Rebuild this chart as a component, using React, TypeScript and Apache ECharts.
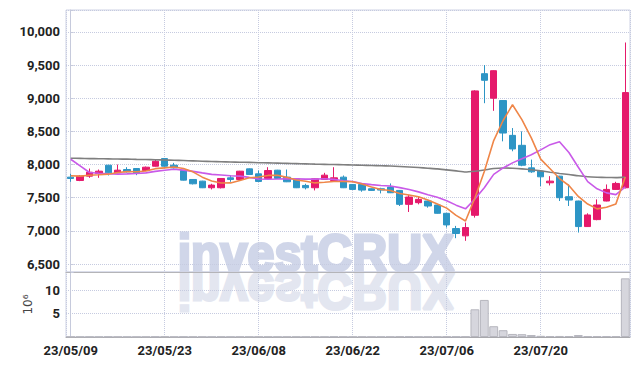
import React, { useEffect, useRef } from "react";
import * as echarts from "echarts";

const dates = [
  "23/05/09","23/05/10","23/05/11","23/05/12","23/05/15","23/05/16","23/05/17","23/05/18","23/05/19","23/05/22",
  "23/05/23","23/05/24","23/05/25","23/05/26","23/05/30","23/05/31","23/06/01","23/06/02","23/06/05","23/06/07",
  "23/06/08","23/06/09","23/06/12","23/06/13","23/06/14","23/06/15","23/06/16","23/06/19","23/06/20","23/06/21",
  "23/06/22","23/06/23","23/06/26","23/06/27","23/06/28","23/06/29","23/06/30","23/07/03","23/07/04","23/07/05",
  "23/07/06","23/07/07","23/07/10","23/07/11","23/07/12","23/07/13","23/07/14","23/07/17","23/07/18","23/07/19",
  "23/07/20","23/07/21","23/07/24","23/07/25","23/07/26","23/07/27","23/07/28","23/07/31","23/08/01","23/08/02",
];

// [open, close, low, high]
const ohlc: number[][] = [
  [7810,7790,7740,7860],[7760,7825,7750,7840],[7825,7885,7800,7940],[7865,7900,7800,7925],[7990,7875,7835,7995],
  [7875,7915,7870,8000],[7925,7890,7880,7960],[7940,7875,7840,7945],[7910,7960,7900,7970],[7975,8050,7970,8075],
  [8090,7975,7970,8095],[7990,7950,7940,8025],[7910,7765,7760,7920],[7775,7710,7700,7780],[7750,7650,7645,7755],
  [7650,7690,7625,7710],[7650,7790,7640,7795],[7800,7775,7740,7840],[7775,7900,7770,7905],[7935,7850,7845,7940],
  [7860,7745,7740,7910],[7790,7910,7785,7960],[7915,7790,7785,7920],[7810,7740,7735,7925],[7785,7650,7645,7790],
  [7685,7650,7625,7710],[7650,7785,7610,7790],[7775,7840,7770,7875],[7760,7800,7755,7960],[7810,7650,7645,7835],
  [7700,7625,7620,7705],[7700,7615,7590,7705],[7635,7610,7605,7640],[7635,7615,7565,7650],[7660,7575,7570,7715],
  [7610,7400,7375,7615],[7400,7510,7285,7540],[7425,7475,7400,7525],[7450,7375,7350,7455],[7390,7265,7260,7395],
  [7265,7090,7050,7270],[7035,6960,6890,7075],[6925,7050,6850,7125],[7235,9110,7200,9120],[9370,9270,8925,9500],
  [9000,9415,8810,9420],[8965,8475,8350,8970],[8440,8235,8200,8550],[8290,7990,7975,8500],[7950,7890,7875,8075],
  [7900,7815,7675,7905],[7725,7750,7685,7825],[7825,7500,7450,7830],[7515,7465,7375,7700],[7450,7065,6975,7455],
  [7065,7240,7060,7265],[7170,7390,7160,7475],[7450,7625,7445,7700],[7625,7715,7620,7740],[7650,9085,7640,9840],
];

// closes of the 9 sessions before the first shown date (for moving averages)
const prevCloses = [8825, 8885, 8010, 7960, 7970, 7850, 7820, 7860, 7830];

const ma60 = [
  8095,8093,8090,8088,8086,8083,8081,8078,8076,8072,
  8068,8065,8060,8055,8050,8046,8042,8038,8035,8032,
  8028,8025,8022,8018,8014,8010,8006,8003,8000,7997,
  7993,7990,7986,7982,7977,7970,7963,7955,7945,7935,
  7920,7905,7888,7900,7918,7940,7948,7944,7935,7922,
  7905,7885,7866,7850,7830,7815,7808,7805,7803,7810,
];

// volume, millions
const volumes = [
  0.06,0.05,0.07,0.05,0.08,0.06,0.05,0.04,0.06,0.09,
  0.1,0.06,0.08,0.07,0.06,0.05,0.07,0.05,0.06,0.05,
  0.06,0.07,0.05,0.06,0.07,0.05,0.06,0.05,0.08,0.06,
  0.05,0.06,0.04,0.05,0.06,0.1,0.08,0.05,0.06,0.07,
  0.09,0.08,0.1,5.9,7.9,2.3,1.45,0.65,0.6,0.42,
  0.25,0.2,0.22,0.2,0.42,0.2,0.18,0.17,0.15,12.5,
];

const closes = ohlc.map((d) => d[1]);

function movingAverage(n: number): number[] {
  const all = prevCloses.concat(closes);
  const off = prevCloses.length;
  return closes.map((_, i) => {
    let s = 0;
    for (let k = 0; k < n; k++) s += all[off + i - k];
    return Math.round(s / n);
  });
}

const FONT = "Roboto, 'Liberation Sans', sans-serif";
const GRID_COLOR = "#c6cbe0";
const WM_FONT = "'Liberation Sans', Arial, sans-serif";

export default function App() {
  const ref = useRef<HTMLDivElement>(null);
  useEffect(() => {
    if (!ref.current) return;
    const chart = echarts.init(ref.current, undefined, { renderer: "svg" });
    const ma5 = movingAverage(5);
    const ma10 = movingAverage(10);
    const vSplit = {
      show: true,
      lineStyle: { type: "dotted" as const, color: GRID_COLOR, width: 1 },
    };
    chart.setOption({
      animation: false,
      grid: [
        { left: 66, right: 9, top: 10, height: 262, show: true, borderColor: "#cfd3e4", borderWidth: 1 },
        { left: 66, right: 9, top: 272, height: 65, show: true, borderColor: "#cfd3e4", borderWidth: 1 },
      ],
      graphic: [
        {
          type: "text",
          x: 316,
          y: 253,
          scaleX: 0.93,
          z: -1,
          silent: true,
          style: {
            text: "investCRUX",
            fontSize: 52,
            fontWeight: "bold",
            fontFamily: WM_FONT,
            fill: "#d0d6e9",
            stroke: "#d0d6e9",
            lineWidth: 3,
            align: "center",
            verticalAlign: "middle",
          },
        },
        {
          type: "text",
          x: 316,
          y: 291,
          scaleX: 0.93,
          scaleY: -1,
          z: -1,
          silent: true,
          style: {
            text: "investCRUX",
            fontSize: 52,
            fontWeight: "bold",
            fontFamily: WM_FONT,
            fill: "#e3e6f0",
            stroke: "#e3e6f0",
            lineWidth: 3,
            align: "center",
            verticalAlign: "middle",
          },
        },
      ],
      xAxis: [
        {
          type: "category",
          gridIndex: 0,
          data: dates,
          axisLine: { show: true, lineStyle: { color: "#b4b4b8" } },
          axisTick: { show: false },
          axisLabel: { show: false },
          splitLine: { show: false },
        },
        {
          type: "category",
          gridIndex: 1,
          data: dates,
          axisLine: { show: true, lineStyle: { color: "#a8a8ac" } },
          axisTick: { show: false },
          axisLabel: {
            interval: 9,
            color: "#222",
            fontFamily: FONT,
            fontSize: 13,
            fontWeight: "bold",
            margin: 7,
          },
          splitLine: { show: false },
        },
        {
          type: "value",
          gridIndex: 0,
          min: -0.5,
          max: 59.5,
          minInterval: 10,
          maxInterval: 10,
          axisLine: { show: false },
          axisTick: { show: false },
          axisLabel: { show: false },
          splitLine: vSplit,
        },
        {
          type: "value",
          gridIndex: 1,
          min: -0.5,
          max: 59.5,
          minInterval: 10,
          maxInterval: 10,
          axisLine: { show: false },
          axisTick: { show: false },
          axisLabel: { show: false },
          splitLine: vSplit,
        },
      ],
      yAxis: [
        {
          type: "value",
          gridIndex: 0,
          min: 6380,
          max: 10330,
          minInterval: 500,
          maxInterval: 500,
          axisLine: { show: true, lineStyle: { color: "#c6cadc" } },
          axisTick: { show: true, inside: true, length: 3, lineStyle: { color: "#c6cadc" } },
          axisLabel: {
            color: "#222",
            fontFamily: FONT,
            fontSize: 13,
            fontWeight: "bold",
            margin: 6,
            formatter: (v: number) => (v % 500 === 0 ? v.toLocaleString("en-US") : ""),
          },
          splitLine: { show: true, lineStyle: { type: "dotted", color: GRID_COLOR } },
        },
        {
          type: "value",
          gridIndex: 1,
          min: 0,
          max: 13.85,
          interval: 5,
          name: "10⁶",
          nameLocation: "middle",
          nameRotate: 90,
          nameGap: 30,
          nameTextStyle: { color: "#444", fontSize: 12, fontFamily: "'DejaVu Sans', sans-serif" },
          axisLine: { show: true, lineStyle: { color: "#c6cadc" } },
          axisTick: { show: false },
          axisLabel: {
            color: "#222",
            fontFamily: FONT,
            fontSize: 13,
            fontWeight: "bold",
            margin: 6,
            formatter: (v: number) => (v === 5 || v === 10 ? String(v) : ""),
          },
          splitLine: { show: true, lineStyle: { type: "dotted", color: GRID_COLOR } },
        },
      ],
      series: [
        {
          type: "candlestick",
          xAxisIndex: 0,
          yAxisIndex: 0,
          data: ohlc,
          barWidth: 7,
          itemStyle: {
            color: "#e5196b",
            color0: "#2d95c5",
            borderColor: "#e5196b",
            borderColor0: "#2d95c5",
            borderWidth: 1,
          },
        },
        {
          type: "line",
          name: "MA60",
          xAxisIndex: 0,
          yAxisIndex: 0,
          data: ma60,
          symbol: "none",
          smooth: 0.2,
          lineStyle: { color: "#7f7f7f", width: 1.6 },
        },
        {
          type: "line",
          name: "MA10",
          xAxisIndex: 0,
          yAxisIndex: 0,
          data: ma10,
          symbol: "none",
          lineStyle: { color: "#c95ae8", width: 1.6 },
        },
        {
          type: "line",
          name: "MA5",
          xAxisIndex: 0,
          yAxisIndex: 0,
          data: ma5,
          symbol: "none",
          lineStyle: { color: "#ef8648", width: 1.6 },
        },
        {
          type: "bar",
          xAxisIndex: 1,
          yAxisIndex: 1,
          data: volumes,
          barCategoryGap: "6%",
          itemStyle: { color: "#d6d6dd", borderColor: "#b6b6be", borderWidth: 1 },
        },
      ],
    });
    return () => chart.dispose();
  }, []);
  return (
    <div
      ref={ref}
      style={{ position: "fixed", left: 0, top: 0, width: 639, height: 366, background: "#fff" }}
    />
  );
}
